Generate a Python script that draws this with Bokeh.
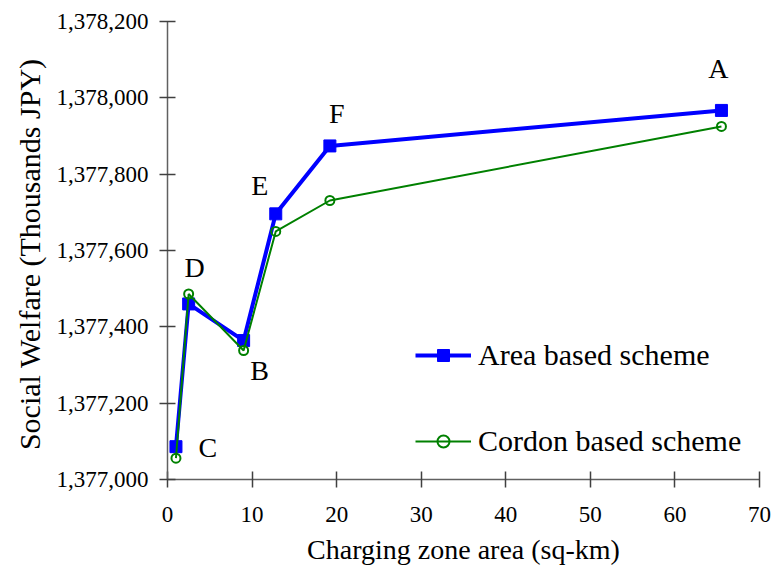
from bokeh.plotting import figure
from bokeh.models import (ColumnDataSource, FixedTicker, NumeralTickFormatter,
                          Legend, LegendItem, Range1d)
from bokeh.core.properties import value
from bokeh.embed import file_html
from bokeh.resources import INLINE

# ---- data ----
zone_area = [1.0, 2.5, 9.0, 12.8, 19.2, 65.5]          # sq-km
area_welfare = [1377086, 1377460, 1377364, 1377696, 1377874, 1377967]
cordon_welfare = [1377056, 1377486, 1377338, 1377650, 1377731, 1377925]
point_names = ["C", "D", "B", "E", "F", "A"]
x_ticks = [0, 10, 20, 30, 40, 50, 60, 70]
y_ticks = [1377000, 1377200, 1377400, 1377600, 1377800, 1378000, 1378200]
series_names = ["Area based scheme", "Cordon based scheme"]

FONT = "'Liberation Serif', 'Times New Roman', serif"

p = figure(width=771, height=571, output_backend="svg", toolbar_location=None,
           min_border_left=167, min_border_right=12, min_border_top=21,
           min_border_bottom=92, x_range=Range1d(0, 70),
           y_range=Range1d(1377000, 1378200), background_fill_color="white",
           border_fill_color="white")
p.outline_line_color = None
p.xgrid.visible = False
p.ygrid.visible = False

# axes styling
for ax in (p.xaxis[0], p.yaxis[0]):
    ax.axis_line_color = "#606060"
    ax.axis_line_width = 1.5
    ax.major_tick_line_color = "#404040"
    ax.major_tick_line_width = 1.5
    ax.major_tick_in = 8
    ax.major_tick_out = 8
    ax.minor_tick_line_color = None
    ax.major_label_text_font = FONT
    ax.major_label_text_font_size = "23px"
    ax.major_label_text_color = "black"
    ax.axis_label_text_font = FONT
    ax.axis_label_text_font_style = "normal"
    ax.axis_label_text_color = "black"

p.xaxis.ticker = FixedTicker(ticks=x_ticks)
p.yaxis.ticker = FixedTicker(ticks=y_ticks)
p.yaxis.formatter = NumeralTickFormatter(format="0,0")
p.xaxis.axis_label = "Charging zone area (sq-km)"
p.yaxis.axis_label = "Social Welfare (Thousands  JPY)"
p.xaxis.axis_label_text_font_size = "28px"
p.yaxis.axis_label_text_font_size = "30px"
p.xaxis.major_label_standoff = 19
p.yaxis.major_label_standoff = 11
p.xaxis.axis_label_standoff = 9
p.yaxis.axis_label_standoff = 8

src = ColumnDataSource(dict(x=zone_area, area=area_welfare, cordon=cordon_welfare,
                            name=point_names))

blue = "#0000FF"
green = "#008000"

l1 = p.line("x", "area", source=src, line_color=blue, line_width=4)
s1 = p.scatter("x", "area", source=src, marker="square", size=12,
               fill_color=blue, line_color=blue)
l2 = p.line("x", "cordon", source=src, line_color=green, line_width=2)
s2 = p.scatter("x", "cordon", source=src, marker="circle", size=9,
               fill_color=None, line_color=green, line_width=2)

# point labels anchored to the area-based points, offset in screen pixels
lab_src = ColumnDataSource(dict(
    x=zone_area, y=area_welfare, text=point_names,
    xo=[32, 6, 16, -16, 7, -3],
    yo=[1, -36, 30, -28, -32, -42],
))
p.text("x", "y", text="text", source=lab_src, x_offset="xo", y_offset="yo",
       text_font=value(FONT), text_font_size="28px", text_align="center",
       text_baseline="middle", text_color="black")

legend = Legend(items=[
    LegendItem(label=series_names[0], renderers=[l1, s1]),
    LegendItem(label=series_names[1], renderers=[l2, s2]),
], location=(248, 21))
legend.label_text_font = FONT
legend.label_text_font_size = "30px"
legend.label_text_color = "black"
legend.glyph_width = 56
legend.glyph_height = 30
legend.label_height = 30
legend.label_standoff = 7
legend.spacing = 52
legend.padding = 0
legend.margin = 0
legend.border_line_color = None
legend.background_fill_alpha = 0
p.add_layout(legend, "center")

open("out.html", "w").write(file_html(p, INLINE))
